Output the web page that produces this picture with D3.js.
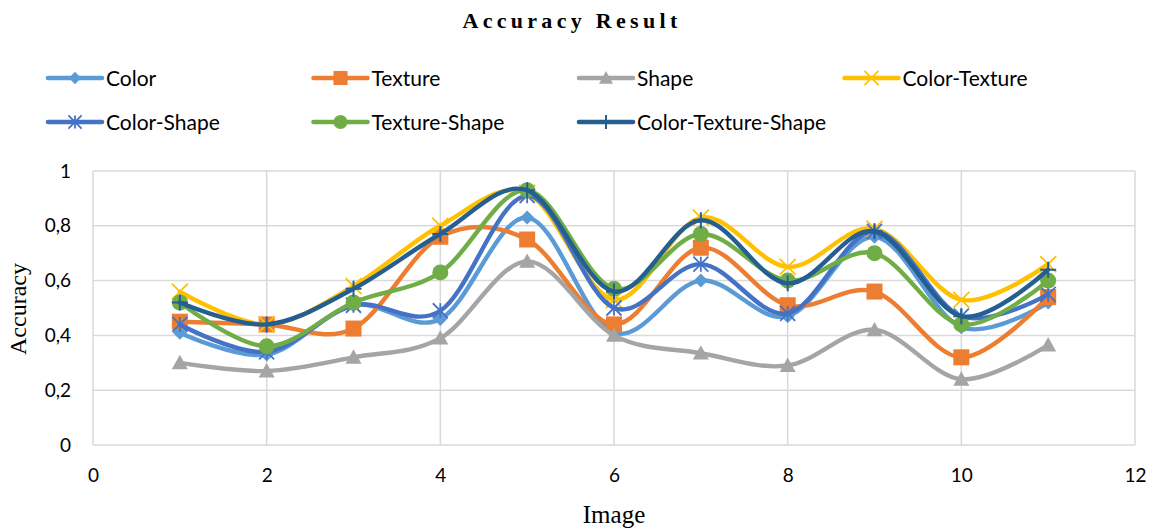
<!DOCTYPE html>
<html>
<head>
<meta charset="utf-8">
<script src="https://cdn.jsdelivr.net/npm/d3@7"></script>
<style>
  html, body { margin: 0; padding: 0; background: #fff; }
  svg { display: block; }
</style>
</head>
<body>
<svg id="chart" width="1150" height="530"></svg>
<script>
// Accuracy per image for each feature combination
const images = [1, 2, 3, 4, 5, 6, 7, 8, 9, 10, 11];
const seriesNames = ["Color", "Texture", "Shape", "Color-Texture", "Color-Shape", "Texture-Shape", "Color-Texture-Shape"];
const colorVals = [0.41, 0.33, 0.51, 0.46, 0.83, 0.41, 0.60, 0.47, 0.76, 0.43, 0.52];
const textureVals = [0.45, 0.44, 0.425, 0.76, 0.75, 0.44, 0.72, 0.51, 0.56, 0.32, 0.54];
const shapeVals = [0.30, 0.27, 0.32, 0.39, 0.67, 0.40, 0.335, 0.29, 0.42, 0.24, 0.365];
const colorTextureVals = [0.56, 0.44, 0.58, 0.80, 0.92, 0.53, 0.83, 0.65, 0.79, 0.53, 0.66];
const colorShapeVals = [0.44, 0.34, 0.51, 0.49, 0.91, 0.50, 0.66, 0.48, 0.78, 0.47, 0.55];
const textureShapeVals = [0.52, 0.36, 0.52, 0.63, 0.93, 0.57, 0.77, 0.60, 0.70, 0.44, 0.60];
const colorTextureShapeVals = [0.52, 0.44, 0.57, 0.77, 0.93, 0.56, 0.82, 0.59, 0.78, 0.47, 0.64];
const xTicks = [0, 2, 4, 6, 8, 10, 12];
const yTicks = [0, 0.2, 0.4, 0.6, 0.8, 1];

const seriesValues = [colorVals, textureVals, shapeVals, colorTextureVals, colorShapeVals, textureShapeVals, colorTextureShapeVals];
const palette = ["#5B9BD5", "#ED7D31", "#A5A5A5", "#FFC000", "#4472C4", "#70AD47", "#255E91"];
const markerKinds = ["diamond", "square", "triangle", "x", "asterisk", "circle", "plus"];

const series = seriesNames.map((name, i) => ({
  name, color: palette[i], marker: markerKinds[i],
  points: images.map((img, j) => ({ x: img, y: seriesValues[i][j] }))
}));

const svg = d3.select("#chart");
const margin = { left: 93, right: 1135, top: 171, bottom: 445 };

const x = d3.scaleLinear().domain([0, 12]).range([margin.left, margin.right]);
const y = d3.scaleLinear().domain([0, 1]).range([margin.bottom, margin.top]);

const tickFont = "Lato, 'Open Sans', sans-serif";
const serifFont = "'Liberation Serif', 'DejaVu Serif', serif";

// Title
svg.append("text")
  .attr("x", 572).attr("y", 28)
  .attr("text-anchor", "middle")
  .attr("font-family", serifFont)
  .attr("font-weight", "bold")
  .attr("font-size", 22)
  .attr("letter-spacing", 4.3)
  .attr("fill", "#000")
  .text("Accuracy Result");

// Gridlines
const grid = svg.append("g");
grid.selectAll("line.h").data(yTicks).join("line")
  .attr("x1", margin.left).attr("x2", margin.right)
  .attr("y1", d => y(d)).attr("y2", d => y(d))
  .attr("stroke", "#d9d9d9").attr("stroke-width", 1.5);
grid.selectAll("line.v").data(xTicks).join("line")
  .attr("y1", margin.top).attr("y2", margin.bottom)
  .attr("x1", d => x(d)).attr("x2", d => x(d))
  .attr("stroke", "#d9d9d9").attr("stroke-width", 1.5);

// Axes (labels only; lines are the gridlines)
const fmt = d => d3.format("")(d).replace(".", ",");
const yAxis = svg.append("g")
  .attr("transform", `translate(${margin.left},0)`)
  .call(d3.axisLeft(y).tickValues(yTicks).tickFormat(fmt).tickSize(0).tickPadding(22));
const xAxis = svg.append("g")
  .attr("transform", `translate(0,${margin.bottom})`)
  .call(d3.axisBottom(x).tickValues(xTicks).tickFormat(fmt).tickSize(0).tickPadding(24));
[yAxis, xAxis].forEach(a => {
  a.select(".domain").remove();
  a.selectAll("text").attr("font-family", tickFont).attr("font-size", 19).attr("fill", "#000");
});

// Axis titles
svg.append("text")
  .attr("transform", "translate(26,309) rotate(-90)")
  .attr("text-anchor", "middle")
  .attr("font-family", serifFont)
  .attr("font-size", 24)
  .attr("fill", "#000")
  .text("Accuracy");
svg.append("text")
  .attr("x", 614).attr("y", 523)
  .attr("text-anchor", "middle")
  .attr("font-family", serifFont)
  .attr("font-size", 25)
  .attr("fill", "#000")
  .text("Image");

// Marker drawing
function drawMarker(g, kind, color, cx, cy, s) {
  const h = s / 2;
  switch (kind) {
    case "diamond":
      g.append("path").attr("d", `M${cx},${cy - h}L${cx + h},${cy}L${cx},${cy + h}L${cx - h},${cy}Z`).attr("fill", color);
      break;
    case "square":
      g.append("rect").attr("x", cx - h).attr("y", cy - h).attr("width", s).attr("height", s).attr("fill", color);
      break;
    case "triangle":
      g.append("path").attr("d", `M${cx},${cy - h}L${cx + h},${cy + h * 0.8}L${cx - h},${cy + h * 0.8}Z`).attr("fill", color);
      break;
    case "circle":
      g.append("circle").attr("cx", cx).attr("cy", cy).attr("r", h).attr("fill", color);
      break;
    case "x":
      g.append("path").attr("d", `M${cx - h},${cy - h}L${cx + h},${cy + h}M${cx - h},${cy + h}L${cx + h},${cy - h}`)
        .attr("stroke", color).attr("stroke-width", 1.8).attr("fill", "none");
      break;
    case "asterisk":
      g.append("path").attr("d", `M${cx - h},${cy - h}L${cx + h},${cy + h}M${cx - h},${cy + h}L${cx + h},${cy - h}M${cx},${cy - h}L${cx},${cy + h}`)
        .attr("stroke", color).attr("stroke-width", 1.8).attr("fill", "none");
      break;
    case "plus":
      g.append("path").attr("d", `M${cx - h},${cy}L${cx + h},${cy}M${cx},${cy - h}L${cx},${cy + h}`)
        .attr("stroke", color).attr("stroke-width", 2).attr("fill", "none");
      break;
  }
}
const markerSize = { diamond: 14, square: 16, triangle: 16, circle: 16, x: 16, asterisk: 15, plus: 16 };

// Series lines and markers
const line = d3.line().x(d => x(d.x)).y(d => y(d.y)).curve(d3.curveCardinal.tension(0));
const plot = svg.append("g");
series.forEach(s => {
  const g = plot.append("g");
  g.append("path")
    .attr("d", line(s.points))
    .attr("fill", "none")
    .attr("stroke", s.color)
    .attr("stroke-width", 4.4)
    .attr("stroke-linejoin", "round")
    .attr("stroke-linecap", "round");
  s.points.forEach(p => drawMarker(g, s.marker, s.color, x(p.x), y(p.y), markerSize[s.marker]));
});

// Legend
const legend = svg.append("g");
series.forEach((s, i) => {
  const col = i % 4, row = Math.floor(i / 4);
  const lx = 48 + col * 265.5, ly = 78 + row * 44;
  const g = legend.append("g");
  g.append("line").attr("x1", lx).attr("x2", lx + 54).attr("y1", ly).attr("y2", ly)
    .attr("stroke", s.color).attr("stroke-width", 4.6).attr("stroke-linecap", "round");
  drawMarker(g, s.marker, s.color, lx + 27, ly, markerSize[s.marker] * 0.88);
  g.append("text").attr("x", lx + 58).attr("y", ly + 7.5)
    .attr("font-family", tickFont).attr("font-size", 21).attr("fill", "#000")
    .text(s.name);
});
</script>
</body>
</html>
